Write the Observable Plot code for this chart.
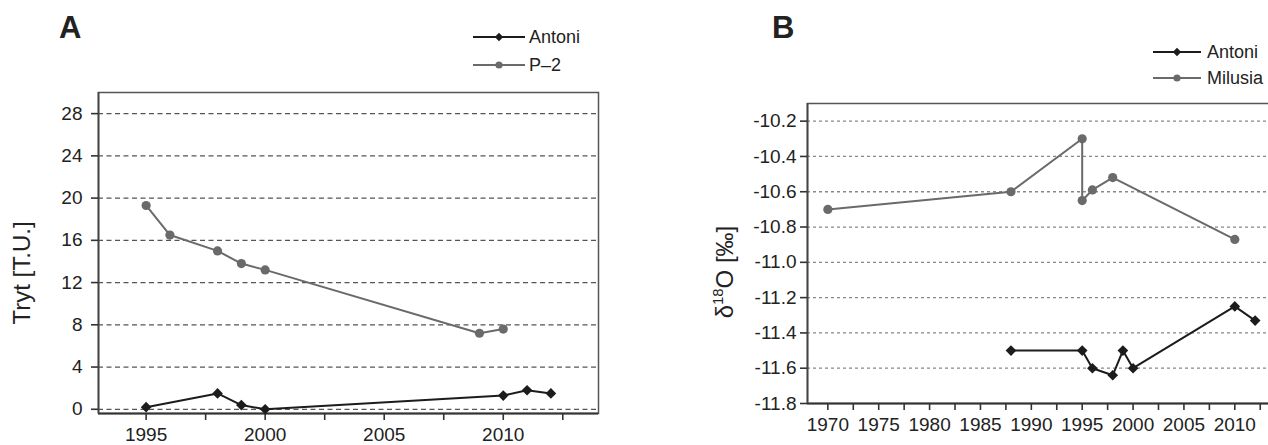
<!DOCTYPE html>
<html><head><meta charset="utf-8">
<script src="https://cdn.jsdelivr.net/npm/d3@7"></script>
<script src="https://cdn.jsdelivr.net/npm/@observablehq/plot@0.6"></script>
<style>
html,body{margin:0;padding:0;background:#fff;overflow:hidden;}
#wrap{position:relative;width:1268px;height:445px;overflow:hidden;font-family:"Liberation Sans",Arial,Helvetica,sans-serif;color:#222;}
.abs{position:absolute;}
.letter{font-weight:bold;font-size:31px;line-height:1;}
.ylab{font-size:24px;white-space:nowrap;transform:translate(-50%,-50%) rotate(-90deg);line-height:1;}
.ylab sup{font-size:0.62em;vertical-align:0.65em;line-height:0;}
.leg{font-size:18px;display:flex;align-items:center;height:20px;white-space:nowrap;}
.leg svg{display:block;}
</style></head><body><div id="wrap"></div>
<script>
// ---------- data ----------
const seriesNamesA = ["Antoni", "P\u20132"];
const yearsA_Antoni = [1995, 1998, 1999, 2000, 2010, 2011, 2012];
const valsA_Antoni  = [0.2, 1.5, 0.4, 0.0, 1.3, 1.8, 1.5];
const yearsA_P2     = [1995, 1996, 1998, 1999, 2000, 2009, 2010];
const valsA_P2      = [19.3, 16.5, 15.0, 13.8, 13.2, 7.2, 7.6];

const seriesNamesB = ["Antoni", "Milusia"];
const yearsB_Antoni  = [1988, 1995, 1996, 1998, 1999, 2000, 2010, 2012];
const valsB_Antoni   = [-11.50, -11.50, -11.60, -11.64, -11.50, -11.60, -11.25, -11.33];
const yearsB_Milusia = [1970, 1988, 1995, 1995, 1996, 1998, 2010];
const valsB_Milusia  = [-10.70, -10.60, -10.30, -10.65, -10.59, -10.52, -10.87];

const yTicksA = [0, 4, 8, 12, 16, 20, 24, 28];
const yTicksB = [-10.2, -10.4, -10.6, -10.8, -11.0, -11.2, -11.4, -11.6, -11.8];
const gridB   = [-10.2, -10.4, -10.6, -10.8, -11.0, -11.2, -11.4, -11.6];
const xTicksA = [1995, 1997.5, 2000, 2002.5, 2005, 2007.5, 2010, 2012.5];
const xTicksB = [1970, 1972.5, 1975, 1977.5, 1980, 1982.5, 1985, 1987.5, 1990, 1992.5, 1995, 1997.5, 2000, 2002.5, 2005, 2007.5, 2010, 2012.5];
const yLabelA = "Tryt [T.U.]";

const colDark = "#1c1c1c";
const colGray = "#6a6a6a";

function toRows(xs, ys) { return xs.map((x, i) => ({x, y: ys[i]})); }

function panel(o) {
  const marks = [
    Plot.ruleY(o.grid, {stroke: o.gridColor, strokeWidth: 1.3, strokeDasharray: o.dash}),
    Plot.frame({stroke: "#555", strokeWidth: 1.5}),
    Plot.ruleY([o.yDomain[0]], {stroke: "#333", strokeWidth: 2.2}),
    Plot.ruleX([o.xDomain[0]], {stroke: "#444", strokeWidth: 1.8}),
    Plot.axisX({ticks: o.xTicks, tickSize: 7, tickPadding: o.xPad, tickFormat: d => d % 5 === 0 ? String(d) : "", fontSize: 19, label: null, stroke: "#333", strokeWidth: 1.6}),
    Plot.axisY({ticks: o.yTicks, tickSize: 7, tickPadding: o.yPad, tickFormat: o.yFmt, fontSize: 19, label: null, stroke: "#333", strokeWidth: 1.6})
  ];
  for (const s of o.series) {
    const rows = toRows(s.x, s.y);
    marks.push(Plot.line(rows, {x: "x", y: "y", stroke: s.color, strokeWidth: 2}));
    marks.push(Plot.dot(rows, {x: "x", y: "y", symbol: s.symbol, r: s.r, fill: s.color, stroke: "none"}));
  }
  return Plot.plot({
    width: o.width, height: o.height,
    marginLeft: o.mL, marginRight: o.mR, marginTop: o.mT, marginBottom: o.mB,
    x: {domain: o.xDomain}, y: {domain: o.yDomain},
    style: {fontFamily: '"Liberation Sans", Arial, Helvetica, sans-serif', fontSize: "19px", color: "#222", background: "transparent", overflow: "visible"},
    marks
  });
}

const wrap = document.getElementById("wrap");

const plotA = panel({
  width: 640, height: 445, mL: 98, mR: 42, mT: 92, mB: 32,
  xDomain: [1993, 2014], yDomain: [-0.4, 30],
  xTicks: xTicksA, yTicks: yTicksA, grid: yTicksA, yFmt: d => String(d),
  xPad: 7, yPad: 9, dash: "5,3.5", gridColor: "#555",
  series: [
    {x: yearsA_P2, y: valsA_P2, color: colGray, symbol: "circle", r: 4.6},
    {x: yearsA_Antoni, y: valsA_Antoni, color: colDark, symbol: "diamond2", r: 4.8}
  ]
});
plotA.style.position = "absolute"; plotA.style.left = "0px"; plotA.style.top = "0px";
wrap.appendChild(plotA);

const plotB = panel({
  width: 655, height: 445, mL: 167, mR: 20, mT: 103, mB: 42,
  xDomain: [1968, 2014], yDomain: [-11.8, -10.1],
  xTicks: xTicksB, yTicks: yTicksB, grid: gridB, yFmt: d => d.toFixed(1),
  xPad: 7, yPad: 4, dash: "3,3", gridColor: "#888",
  series: [
    {x: yearsB_Milusia, y: valsB_Milusia, color: colGray, symbol: "circle", r: 4.6},
    {x: yearsB_Antoni, y: valsB_Antoni, color: colDark, symbol: "diamond2", r: 4.8}
  ]
});
plotB.style.position = "absolute"; plotB.style.left = "640px"; plotB.style.top = "0px";
wrap.appendChild(plotB);

// ---------- titles, axis labels, legends ----------
function addDiv(cls, html, left, top) {
  const d = document.createElement("div");
  d.className = "abs " + cls;
  d.innerHTML = html;
  d.style.left = left + "px"; d.style.top = top + "px";
  wrap.appendChild(d);
  return d;
}
addDiv("letter", "A", 59, 12);
addDiv("letter", "B", 772, 12);
addDiv("ylab", yLabelA, 22, 273);
addDiv("ylab", "\u03B4<sup>18</sup>O [\u2030]", 725, 272);

function swatch(w, color, symbol) {
  const m = symbol === "circle"
    ? `<circle cx="${w/2}" cy="6" r="3.6" fill="${color}"/>`
    : `<path d="M${w/2} 1.8 L${w/2+4.2} 6 L${w/2} 10.2 L${w/2-4.2} 6Z" fill="${color}"/>`;
  return `<svg width="${w}" height="12"><line x1="0" x2="${w}" y1="6" y2="6" stroke="${color}" stroke-width="2"/>${m}</svg>`;
}
function legendItem(name, color, symbol, left, cy, w, gap) {
  addDiv("leg", swatch(w, color, symbol) + `<span style="margin-left:${gap}px">${name}</span>`, left, cy - 10);
}
legendItem(seriesNamesA[0], colDark, "diamond", 473, 37, 52, 4);
legendItem(seriesNamesA[1], colGray, "circle", 473, 65, 52, 4);
legendItem(seriesNamesB[0], colDark, "diamond", 1153, 52, 48, 6);
legendItem(seriesNamesB[1], colGray, "circle", 1153, 78, 48, 6);
</script></body></html>
